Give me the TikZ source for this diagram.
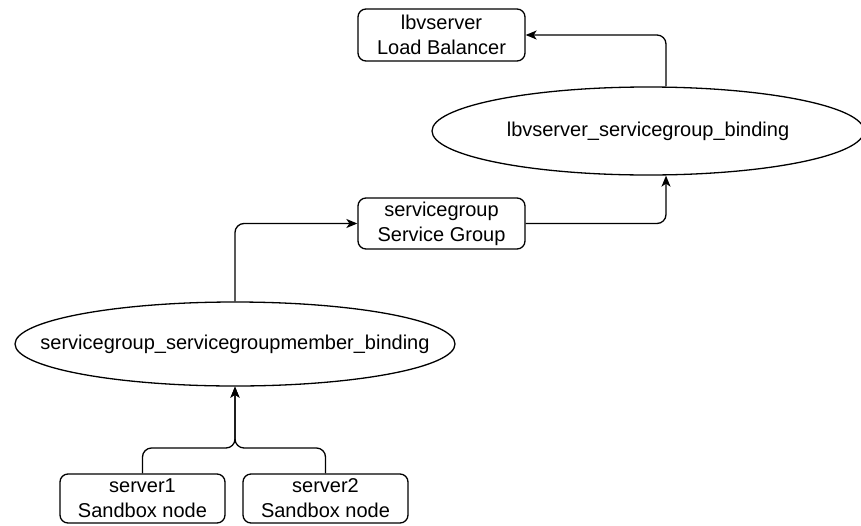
\documentclass[tikz,border=0pt]{standalone}
\usepackage{fontspec}
\setmainfont{Liberation Sans}
\usetikzlibrary{arrows.meta,shapes.geometric}
\begin{document}
\begin{tikzpicture}[x=1pt,y=-1pt,
  every node/.style={font=\fontsize{20}{25}\selectfont, align=center, inner sep=0pt},
  box/.style={draw, line width=1.3pt, rounded corners=8pt, minimum width=167pt, minimum height=52pt},
  oval/.style={draw, line width=1.3pt, ellipse, inner sep=0pt},
  link/.style={line width=1.3pt, rounded corners=9pt, -{Stealth[length=11pt,width=9pt,inset=3pt]}}]
  \useasboundingbox (0,0) rectangle (861,525);

  % resources; the binding ovals carry their text as a centred label
  % so that the oval keeps its own size
  \node[box] (lb) at (441.5,35) {lbvserver\\Load Balancer};
  \node[oval, minimum width=432pt, minimum height=88pt,
        label={center:lbvserver\_servicegroup\_binding}] (lbsg) at (648,131) {};
  \node[box, minimum height=51pt] (sg) at (441.5,223.5) {servicegroup\\Service Group};
  \node[oval, minimum width=440pt, minimum height=84pt,
        label={center:servicegroup\_servicegroupmember\_binding}] (sgm) at (235,344) {};
  \node[box, minimum width=165pt, minimum height=49pt] (s1) at (142.5,498.5) {server1\\Sandbox node};
  \node[box, minimum width=165pt, minimum height=49pt] (s2) at (325.5,498.5) {server2\\Sandbox node};

  % join point of the two server links
  \coordinate (join) at (235,448);

  % bindings
  \draw[link] ([xshift=18pt]lbsg.north) |- (lb.east);
  \draw[link] (sg.east) -| ([xshift=18pt]lbsg.south);
  \draw[link] (sgm.north) |- (sg.west);
  \draw[link] (s1.north) |- (join) -- (sgm.south);
  \draw[link] (s2.north) |- (join) -- (sgm.south);
\end{tikzpicture}
\end{document}
